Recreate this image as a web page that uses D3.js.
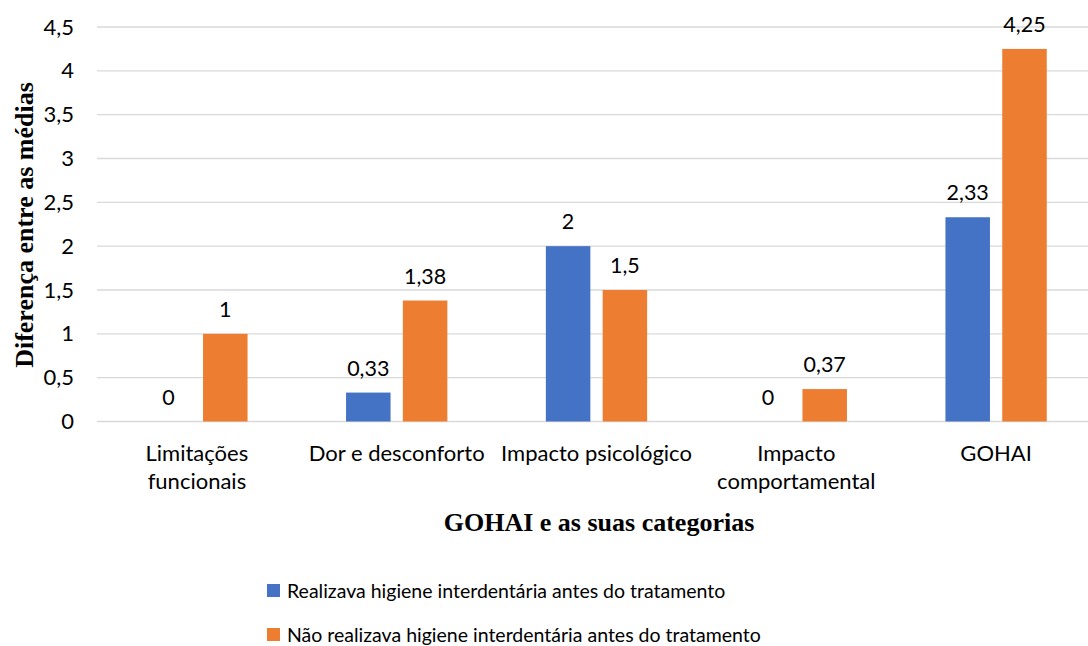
<!DOCTYPE html>
<html>
<head>
<meta charset="utf-8">
<script src="https://cdn.jsdelivr.net/npm/d3@7"></script>
<style>
  body { margin: 0; background: #fff; }
  svg { display: block; }
</style>
</head>
<body>
<div id="chart"></div>
<script>
const categories = [
  ["Limitações", "funcionais"],
  ["Dor e desconforto"],
  ["Impacto psicológico"],
  ["Impacto", "comportamental"],
  ["GOHAI"]
];
const seriesNames = [
  "Realizava higiene interdentária antes do tratamento",
  "Não realizava higiene interdentária antes do tratamento"
];
const realizava = [0, 0.33, 2, 0, 2.33];
const naoRealizava = [1, 1.38, 1.5, 0.37, 4.25];
const labelsRealizava = ["0", "0,33", "2", "0", "2,33"];
const labelsNao = ["1", "1,38", "1,5", "0,37", "4,25"];
const yTicks = [0, 0.5, 1, 1.5, 2, 2.5, 3, 3.5, 4, 4.5];
const yTickLabels = ["0", "0,5", "1", "1,5", "2", "2,5", "3", "3,5", "4", "4,5"];

const width = 1088, height = 646;
const plotLeft = 97, plotRight = 1096, plotTop = 27, plotBottom = 421.5;
const colors = ["#4472C4", "#ED7D31"];
const font = "Lato, 'Open Sans', sans-serif";
const serif = "'Liberation Serif', 'Times New Roman', serif";

const svg = d3.select("#chart").append("svg")
  .attr("width", width)
  .attr("height", height);

const catKeys = categories.map((c, i) => i);
const x0 = d3.scaleBand()
  .domain(catKeys)
  .range([plotLeft, plotRight])
  .paddingInner(0.493)
  .paddingOuter(0.2465);
const x1 = d3.scaleBand()
  .domain([0, 1])
  .range([0, x0.bandwidth()])
  .paddingInner(0.2165);
const y = d3.scaleLinear().domain([0, 4.5]).range([plotBottom, plotTop]);

// gridlines
svg.append("g")
  .selectAll("line")
  .data(yTicks)
  .enter().append("line")
  .attr("x1", plotLeft).attr("x2", plotRight)
  .attr("y1", d => y(d)).attr("y2", d => y(d))
  .attr("stroke", "#d9d9d9")
  .attr("stroke-width", 1.3);

// y axis labels
const yAxis = svg.append("g")
  .attr("transform", "translate(" + (plotLeft - 10) + ",0)")
  .call(d3.axisLeft(y).tickValues(yTicks).tickSize(0).tickPadding(13)
    .tickFormat((d, i) => yTickLabels[i]));
yAxis.select(".domain").remove();
yAxis.selectAll("text")
  .style("font-family", font)
  .style("font-size", "22px")
  .attr("fill", "#000");

// bars
const rows = catKeys.map(i => ({
  i: i,
  values: [realizava[i], naoRealizava[i]],
  labels: [labelsRealizava[i], labelsNao[i]]
}));

const groups = svg.selectAll(".grp")
  .data(rows)
  .enter().append("g")
  .attr("class", "grp")
  .attr("transform", d => "translate(" + x0(d.i) + ",0)");

groups.selectAll("rect")
  .data(d => d.values.map((v, s) => ({ v: v, s: s })))
  .enter().append("rect")
  .attr("x", d => x1(d.s))
  .attr("y", d => y(d.v))
  .attr("width", x1.bandwidth())
  .attr("height", d => y(0) - y(d.v))
  .attr("fill", d => colors[d.s]);

groups.selectAll("text.val")
  .data(d => d.values.map((v, s) => ({ v: v, s: s, label: d.labels[s] })))
  .enter().append("text")
  .attr("class", "val")
  .attr("x", d => x1(d.s) + x1.bandwidth() / 2)
  .attr("y", d => y(d.v) - 17)
  .attr("text-anchor", "middle")
  .style("font-family", font)
  .style("font-size", "21.5px")
  .text(d => d.label);

// category labels
const catG = svg.append("g");
categories.forEach((lines, i) => {
  const t = catG.append("text")
    .attr("x", x0(i) + x0.bandwidth() / 2)
    .attr("y", 461)
    .attr("text-anchor", "middle")
    .style("font-family", font)
    .style("font-size", "22px");
  lines.forEach((ln, j) => {
    t.append("tspan")
      .attr("x", x0(i) + x0.bandwidth() / 2)
      .attr("dy", j === 0 ? 0 : 28)
      .text(ln);
  });
});

// axis titles
svg.append("text")
  .attr("x", 599)
  .attr("y", 531)
  .attr("text-anchor", "middle")
  .style("font-family", serif)
  .style("font-weight", "bold")
  .style("font-size", "26px")
  .text("GOHAI e as suas categorias");

svg.append("text")
  .attr("transform", "translate(33,225) rotate(-90)")
  .attr("text-anchor", "middle")
  .style("font-family", serif)
  .style("font-weight", "bold")
  .style("font-size", "26px")
  .text("Diferença entre as médias");

// legend
const legend = svg.append("g");
seriesNames.forEach((name, i) => {
  const ly = 591 + i * 44;
  legend.append("rect")
    .attr("x", 267).attr("y", ly - 7)
    .attr("width", 13).attr("height", 13)
    .attr("fill", colors[i]);
  legend.append("text")
    .attr("x", 287).attr("y", ly + 7)
    .style("font-family", font)
    .style("font-size", "19.5px")
    .text(name);
});
</script>
</body>
</html>
